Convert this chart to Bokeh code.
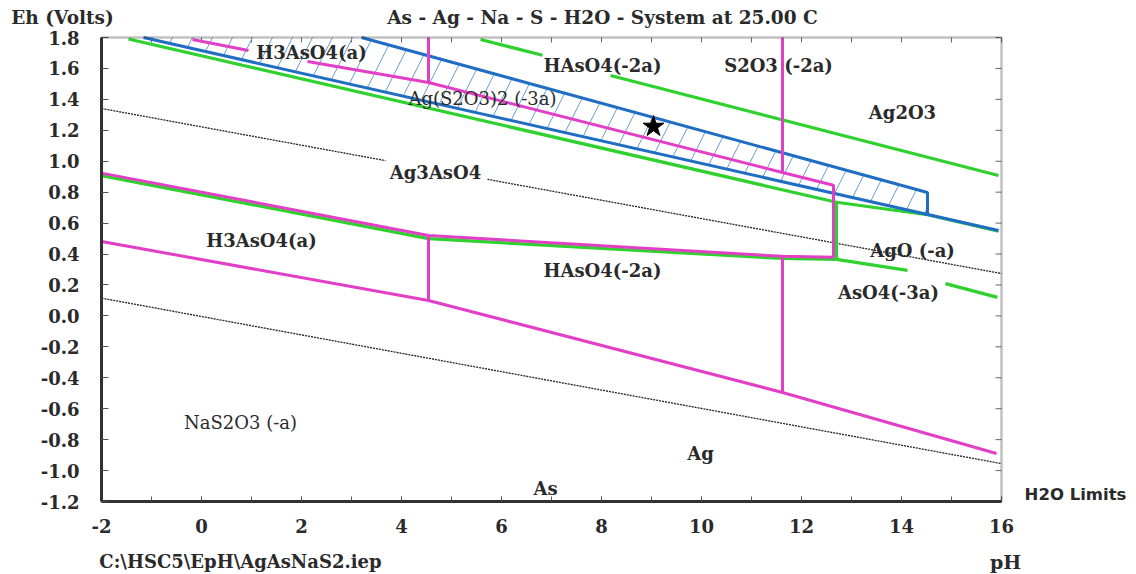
from bokeh.plotting import figure
from bokeh.models import Range1d, LinearAxis, FixedTicker, PrintfTickFormatter, Label, BoxAnnotation
from bokeh.embed import file_html
from bokeh.resources import INLINE

# ---------------- data (pH, Eh) ----------------
# H2O stability limits (dotted)
o2_ph_a = [-2.0, 3.68]
o2_eh_a = [1.341, 1.004]
o2_ph_b = [5.72, 16.0]
o2_eh_b = [0.883, 0.274]
h2_ph = [-2.0, 16.0]
h2_eh = [0.115, -0.955]

# magenta boundaries
mag_low_ph = [-2.0, 4.54, 11.62, 15.9]
mag_low_eh = [0.481, 0.10, -0.495, -0.89]
mag_v1_ph = [4.54, 4.54]
mag_v1_eh = [0.10, 0.52]
mag_mid_ph = [-2.0, 4.54, 11.62, 12.64, 12.64, 11.62, 11.62]
mag_mid_eh = [0.923, 0.52, 0.385, 0.38, 0.845, 0.927, 1.8]
mag_v2_ph = [11.62, 11.62]
mag_v2_eh = [-0.495, 0.385]
mag_up_ph = [2.12, 4.54, 11.62]
mag_up_eh = [1.645, 1.509, 0.927]
mag_v3_ph = [4.54, 4.54]
mag_v3_eh = [1.509, 1.8]
mag_top_ph = [-0.18, 0.94]
mag_top_eh = [1.787, 1.716]

# green boundaries
grn_mid_ph = [-2.0, 4.54, 11.62, 12.7]
grn_mid_eh = [0.907, 0.50, 0.371, 0.365]
grn_v_ph = [12.7, 12.7]
grn_v_eh = [0.365, 0.735]
grn_as_ph_a = [12.7, 14.12]
grn_as_eh_a = [0.365, 0.294]
grn_as_ph_b = [14.88, 15.92]
grn_as_eh_b = [0.209, 0.12]
grn_long_ph = [-1.46, 12.7, 14.52, 15.94]
grn_long_eh = [1.79, 0.735, 0.654, 0.548]
grn_top_ph_a = [5.58, 6.82]
grn_top_eh_a = [1.787, 1.685]
grn_top_ph_b = [8.18, 15.94]
grn_top_eh_b = [1.554, 0.908]

# blue boundaries (Ag(S2O3)2 field, hatched)
blue_low_ph = [-1.16, 15.94]
blue_low_eh = [1.8, 0.552]
blue_up_ph = [3.2, 14.52, 14.52]
blue_up_eh = [1.8, 0.798, 0.656]
hatch_ph = [-1.16, 3.2, 14.52, 14.52]
hatch_eh = [1.8, 1.8, 0.798, 0.656]

star_ph = [9.04]
star_eh = [1.224]

# axis ticks
x_major = [-2, 0, 2, 4, 6, 8, 10, 12, 14, 16]
x_minor = [-2, -1, 0, 1, 2, 3, 4, 5, 6, 7, 8, 9, 10, 11, 12, 13, 14, 15, 16]
y_ticks = [-1.2, -1.0, -0.8, -0.6, -0.4, -0.2, 0.0, 0.2, 0.4, 0.6, 0.8, 1.0, 1.2, 1.4, 1.6, 1.8]
PH_MIN, PH_MAX = -2.0, 16.0
EH_MIN, EH_MAX = -1.2, 1.8

# field labels: text, pH, Eh, bold
field_text = ["H3AsO4(a)", "HAsO4(-2a)", "S2O3 (-2a)", "Ag2O3", "Ag(S2O3)2 (-3a)",
              "Ag3AsO4", "H3AsO4(a)", "HAsO4(-2a)", "AgO (-a)", "AsO4(-3a)",
              "NaS2O3 (-a)", "Ag", "As"]
field_ph = [2.2, 8.02, 11.54, 14.02, 5.62, 4.68, 1.2, 8.02, 14.22, 13.74, 0.78, 9.98, 6.88]
field_eh = [1.703, 1.619, 1.619, 1.315, 1.405, 0.927, 0.487, 0.293, 0.423, 0.151, -0.689, -0.889, -1.115]
field_bold = [True, True, True, True, False, True, True, True, True, True, False, True, True]

MAG = "#e23fc6"
GRN = "#2ed12e"
BLU = "#1f6ec4"
TXT = "#2a2a2a"
AX = "#333333"
SERIF = "DejaVu Serif"

# The frame spans the whole canvas (1136 x 574 px); the diagram box is drawn
# by axes fixed at pH -2 / Eh -1.2 so that texts outside the box stay visible.
PX_PER_PH = 50.0
PX_PER_V = 154.67
x0 = PH_MIN - 101 / PX_PER_PH
x1 = x0 + 1136 / PX_PER_PH
y1 = EH_MAX + 37 / PX_PER_V
y0 = y1 - 574 / PX_PER_V

p = figure(frame_width=1136, frame_height=574, min_border=0,
           x_range=Range1d(x0, x1), y_range=Range1d(y0, y1),
           x_axis_location=None, y_axis_location=None,
           output_backend="svg", toolbar_location=None)
p.grid.visible = False
p.outline_line_color = None
p.background_fill_color = "white"
p.border_fill_color = "white"

# box outline (top and right edges)
p.add_layout(BoxAnnotation(left=PH_MIN, right=PH_MAX, bottom=EH_MIN, top=EH_MAX,
                           fill_color=None, line_color=AX, line_width=2.5))

xa = LinearAxis(fixed_location=EH_MIN, bounds=(PH_MIN, PH_MAX),
                ticker=FixedTicker(ticks=x_major, minor_ticks=x_minor),
                formatter=PrintfTickFormatter(format="%d"),
                major_tick_in=5, major_tick_out=0, minor_tick_in=5, minor_tick_out=0,
                axis_line_width=3, axis_line_color=AX,
                major_tick_line_color="#555555", minor_tick_line_color="#555555",
                major_label_standoff=17, major_label_text_font=SERIF,
                major_label_text_font_style="bold", major_label_text_font_size="18px",
                major_label_text_color=TXT)
p.add_layout(xa, "below")

ya = LinearAxis(fixed_location=PH_MIN, bounds=(EH_MIN, EH_MAX),
                ticker=FixedTicker(ticks=y_ticks), formatter=PrintfTickFormatter(format="%.1f"),
                major_tick_in=7, major_tick_out=0, minor_tick_in=0, minor_tick_out=0,
                axis_line_width=3, axis_line_color=AX, major_tick_line_color="#555555",
                major_label_standoff=22, major_label_text_font=SERIF,
                major_label_text_font_style="bold", major_label_text_font_size="18px",
                major_label_text_color=TXT)
p.add_layout(ya, "left")

# inward ticks on the top and right edges
top_len = 5 / PX_PER_V
right_len = 6 / PX_PER_PH
p.segment(x0=x_minor, y0=[EH_MAX] * len(x_minor), x1=x_minor, y1=[EH_MAX - top_len] * len(x_minor),
          line_color="#666666", line_width=1)
p.segment(x0=[PH_MAX] * len(y_ticks), y0=y_ticks, x1=[PH_MAX - right_len] * len(y_ticks), y1=y_ticks,
          line_color="#666666", line_width=1)

# hatched field
p.patch(hatch_ph, hatch_eh, fill_alpha=0, line_color=None,
        hatch_pattern="/", hatch_color="#6a9fd8", hatch_weight=1, hatch_scale=40)

# dotted water lines
for xs, ys in [(o2_ph_a, o2_eh_a), (o2_ph_b, o2_eh_b), (h2_ph, h2_eh)]:
    p.line(xs, ys, line_color="#222222", line_width=1.3, line_dash="2 1")

# green
for xs, ys in [(grn_mid_ph, grn_mid_eh), (grn_v_ph, grn_v_eh), (grn_as_ph_a, grn_as_eh_a),
               (grn_as_ph_b, grn_as_eh_b), (grn_long_ph, grn_long_eh),
               (grn_top_ph_a, grn_top_eh_a), (grn_top_ph_b, grn_top_eh_b)]:
    p.line(xs, ys, line_color=GRN, line_width=3.2)

# blue
for xs, ys in [(blue_low_ph, blue_low_eh), (blue_up_ph, blue_up_eh)]:
    p.line(xs, ys, line_color=BLU, line_width=3)

# magenta
for xs, ys in [(mag_low_ph, mag_low_eh), (mag_v1_ph, mag_v1_eh), (mag_mid_ph, mag_mid_eh),
               (mag_v2_ph, mag_v2_eh), (mag_up_ph, mag_up_eh), (mag_v3_ph, mag_v3_eh),
               (mag_top_ph, mag_top_eh)]:
    p.line(xs, ys, line_color=MAG, line_width=3)

p.scatter(star_ph, star_eh, marker="star", size=22, fill_color="black", line_color="black")

for t, x, y, b in zip(field_text, field_ph, field_eh, field_bold):
    p.add_layout(Label(x=x, y=y, text=t, text_align="center", text_baseline="middle",
                       text_font=SERIF, text_font_style="bold" if b else "normal",
                       text_font_size="18px", text_color=TXT))

# texts outside the box
p.add_layout(Label(x=8.02, y=1.929, text="As - Ag - Na - S - H2O - System at 25.00 C",
                   text_align="center", text_baseline="middle", text_font=SERIF,
                   text_font_style="bold", text_font_size="18.5px", text_color=TXT))
p.add_layout(Label(x=-2.78, y=1.929, text="Eh (Volts)", text_align="center", text_baseline="middle",
                   text_font=SERIF, text_font_style="bold", text_font_size="18.5px", text_color=TXT))
p.add_layout(Label(x=17.48, y=-1.154, text="H2O Limits", text_align="center", text_baseline="middle",
                   text_font="DejaVu Sans", text_font_style="bold", text_font_size="16.5px",
                   text_color=TXT))
p.add_layout(Label(x=16.08, y=-1.594, text="pH", text_align="center", text_baseline="middle",
                   text_font=SERIF, text_font_style="bold", text_font_size="19px", text_color=TXT))
p.add_layout(Label(x=0.78, y=-1.588, text="C:\\HSC5\\EpH\\AgAsNaS2.iep", text_align="center",
                   text_baseline="middle", text_font=SERIF, text_font_style="bold",
                   text_font_size="18px", text_color=TXT))

open("out.html", "w").write(file_html(p, INLINE))
